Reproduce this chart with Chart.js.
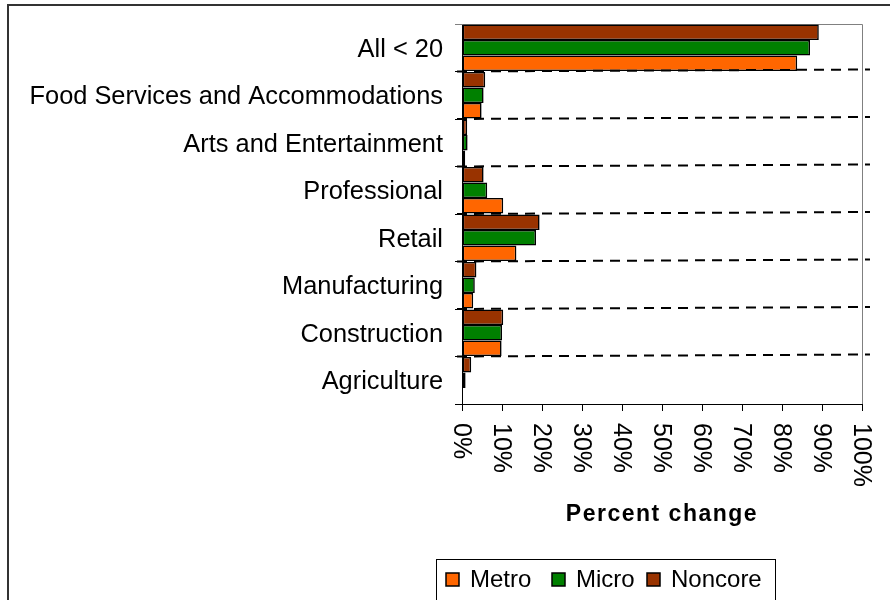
<!DOCTYPE html>
<html>
<head>
<meta charset="utf-8">
<script src="https://cdn.jsdelivr.net/npm/chart.js@4"></script>
<style>
	html, body { margin: 0; padding: 0; background: #fff; }
	#wrap { width: 890px; height: 600px; position: relative; }
</style>
</head>
<body>
<div id="wrap"><canvas id="chart" width="890" height="600"></canvas></div>
<script>
// percent change by industry, small firms (< 20 employees)
const categories = [
	'All < 20',
	'Food Services and Accommodations',
	'Arts and Entertainment',
	'Professional',
	'Retail',
	'Manufacturing',
	'Construction',
	'Agriculture',
];
const metro = [83.8, 4.9, 0.8, 10.3, 13.6, 2.8, 9.9, 0];
const micro = [87.0, 5.4, 1.4, 6.3, 18.5, 3.2, 10.0, 0.9];
const noncore = [89.2, 5.8, 1.3, 5.4, 19.4, 3.6, 10.3, 2.3];

const seriesNames = ['Metro', 'Micro', 'Noncore'];
const seriesColors = ['#ff6600', '#008000', '#993300'];

const xMin = 0;
const xMax = 100;
const xStep = 10;
const xTitle = 'Percent change';

const FONT = '"Liberation Sans", Arial, Helvetica, sans-serif';

let seriesValues = [metro, micro, noncore];

// noncore sits on top inside each group, so datasets go in reverse
let datasets = [2, 1, 0].map((i) => ({
	label: seriesNames[i],
	data: seriesValues[i],
	backgroundColor: seriesColors[i],
	borderColor: '#000',
	borderWidth: 1.6,
	borderSkipped: false,
	barPercentage: 1,
	categoryPercentage: 0.98,
}));

let decor = {
	id: 'decor',
	beforeDraw(chart) {
		let {ctx, width, height} = chart;
		ctx.save();
		ctx.fillStyle = '#fff';
		ctx.fillRect(0, 0, width, height);
		// outer frame, runs off the right and bottom edges
		ctx.strokeStyle = '#333';
		ctx.lineWidth = 2;
		ctx.beginPath();
		ctx.moveTo(8, height + 5);
		ctx.lineTo(8, 5);
		ctx.lineTo(width + 5, 5);
		ctx.stroke();
		ctx.restore();
	},
	beforeDatasetsDraw(chart) {
		let {ctx, chartArea} = chart;
		ctx.save();
		ctx.strokeStyle = '#808080';
		ctx.lineWidth = 1;
		ctx.beginPath();
		ctx.moveTo(chartArea.left - 7, chartArea.top + 0.5);
		ctx.lineTo(chartArea.right + 0.5, chartArea.top + 0.5);
		ctx.lineTo(chartArea.right + 0.5, chartArea.bottom);
		ctx.stroke();
		ctx.restore();
	},
	afterDatasetsDraw(chart) {
		let {ctx, chartArea} = chart;
		let yScale = chart.scales.y;
		ctx.save();
		ctx.strokeStyle = '#000';
		ctx.lineWidth = 2;
		ctx.setLineDash([10, 7]);
		for (let i = 1; i < categories.length; i++) {
			let y = (yScale.getPixelForTick(i - 1) + yScale.getPixelForTick(i)) / 2;
			ctx.beginPath();
			ctx.moveTo(chartArea.left - 5, y);
			ctx.lineTo(chartArea.right + 8, y - 2);
			ctx.stroke();
		}
		ctx.restore();
	},
	afterDraw(chart) {
		let {ctx, chartArea} = chart;
		let xScale = chart.scales.x;
		ctx.save();
		ctx.fillStyle = '#000';

		// x tick labels, turned to read downward
		ctx.font = '25px ' + FONT;
		ctx.textAlign = 'left';
		ctx.textBaseline = 'middle';
		xScale.ticks.forEach((t, i) => {
			let x = xScale.getPixelForTick(i);
			ctx.save();
			ctx.translate(x - 1, chartArea.bottom + 19);
			ctx.rotate(Math.PI / 2);
			ctx.fillText(t.value + '%', 0, 0);
			ctx.restore();
		});

		// axis title
		ctx.font = 'bold 23px ' + FONT;
		ctx.letterSpacing = '1.5px';
		ctx.textAlign = 'center';
		ctx.textBaseline = 'alphabetic';
		ctx.fillText(xTitle, (chartArea.left + chartArea.right) / 2, 521);
		ctx.letterSpacing = '0px';

		// legend box
		ctx.strokeStyle = '#000';
		ctx.lineWidth = 1;
		ctx.strokeRect(436.5, 559.5, 339, 60);
		let itemX = [446, 552, 647];
		ctx.font = '24px ' + FONT;
		ctx.textAlign = 'left';
		ctx.textBaseline = 'middle';
		seriesNames.forEach((name, i) => {
			let x = itemX[i];
			ctx.fillStyle = seriesColors[i];
			ctx.fillRect(x, 573, 13, 13);
			ctx.lineWidth = 1.5;
			ctx.strokeRect(x, 573, 13, 13);
			ctx.fillStyle = '#000';
			ctx.fillText(name, x + 24, 580);
		});
		ctx.restore();
	},
};

new Chart(document.getElementById('chart'), {
	type: 'bar',
	data: {
		labels: categories,
		datasets,
	},
	options: {
		indexAxis: 'y',
		responsive: false,
		animation: false,
		events: [],
		layout: {
			padding: {top: 24, right: 28, left: 0, bottom: 0},
		},
		plugins: {
			legend: {display: false},
			tooltip: {enabled: false},
		},
		scales: {
			x: {
				type: 'linear',
				position: 'bottom',
				min: xMin,
				max: xMax,
				ticks: {
					stepSize: xStep,
					autoSkip: false,
					maxRotation: 0,
					color: 'transparent',
					font: {family: FONT, size: 10},
				},
				grid: {
					drawOnChartArea: false,
					drawTicks: true,
					tickLength: 7,
					color: '#000',
				},
				border: {color: '#000', width: 1},
				afterFit(scale) {
					scale.height = 196;
				},
			},
			y: {
				type: 'category',
				position: 'left',
				ticks: {
					color: '#000',
					padding: 12,
					labelOffset: 2,
					autoSkip: false,
					font: {family: FONT, size: 25.4},
				},
				grid: {
					offset: true,
					drawOnChartArea: false,
					drawTicks: true,
					tickLength: 7,
					color: '#000',
				},
				border: {color: '#000', width: 1},
				afterFit(scale) {
					scale.width = 462;
					// keep the plot top fixed, labels fit inside their rows
					scale.paddingTop = 0;
					scale.paddingBottom = 0;
				},
			},
		},
	},
	plugins: [decor],
});
</script>
</body>
</html>
